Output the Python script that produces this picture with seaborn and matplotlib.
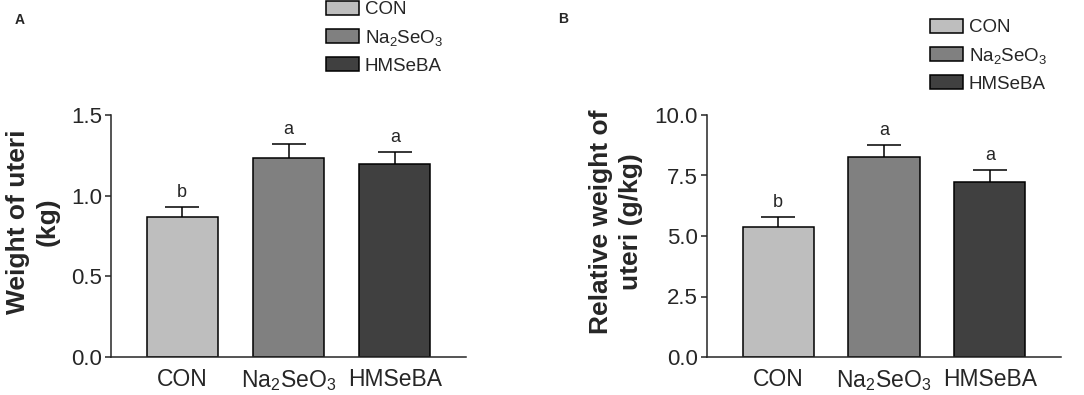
import numpy as np
import pandas as pd
import matplotlib
matplotlib.use('Agg')
import matplotlib.pyplot as plt
import seaborn as sns

# data
groups = ['CON', 'Na2SeO3', 'HMSeBA']
group_labels = ['CON', r'$\mathregular{Na_2SeO_3}$', 'HMSeBA']
weight_mean = [0.868, 1.234, 1.196]
weight_sem = [0.062, 0.086, 0.074]
weight_letters = ['b', 'a', 'a']
rel_mean = [5.37, 8.26, 7.23]
rel_sem = [0.42, 0.50, 0.50]
rel_letters = ['b', 'a', 'a']
bar_colors = ['#bebebe', '#808080', '#404040']

sns.set_theme(style='ticks')
plt.rcParams['font.family'] = ['Liberation Sans', 'DejaVu Sans']
plt.rcParams['mathtext.fontset'] = 'custom'
plt.rcParams['mathtext.rm'] = 'Liberation Sans'

W, H = 1084, 395
fig = plt.figure(figsize=(W / 100, H / 100), dpi=100)


def px_axes(left, right, top, bottom):
    return fig.add_axes([left / W, 1 - bottom / H, (right - left) / W, (bottom - top) / H])


def draw_panel(ax, means, sems, letters, ylim, yticks, ylabel, label_x, leg_xy):
    df = pd.DataFrame({'group': groups, 'value': means})
    sns.barplot(data=df, x='group', y='value', hue='group', palette=bar_colors,
                order=groups, hue_order=groups, dodge=False, width=0.67,
                edgecolor='black', linewidth=1.1, ax=ax, legend=True)
    # upper-only error bars (SEM)
    _, caps, _ = ax.errorbar(np.arange(len(groups)), means,
                             yerr=[np.zeros(len(sems)), sems],
                             fmt='none', ecolor='black', elinewidth=1.1,
                             capsize=12.5, capthick=1.1)
    caps[0].set_visible(False)
    for i, (m, s, t) in enumerate(zip(means, sems, letters)):
        ax.annotate(t, xy=(i, m + s), xytext=(0, 7), textcoords='offset points',
                    ha='center', va='baseline', fontsize=13)
    ax.set_xlim(-0.67, 2.67)
    ax.set_ylim(*ylim)
    ax.set_yticks(yticks)
    ax.set_yticklabels([f'{v:.1f}' for v in yticks])
    ax.set_xticks(range(len(groups)))
    ax.set_xticklabels(group_labels)
    ax.tick_params(axis='y', labelsize=16, length=4.5, width=1.1, direction='out', pad=2)
    ax.tick_params(axis='x', labelsize=16.5, length=0, pad=8)
    ax.set_xlabel('')
    ax.set_ylabel(ylabel, fontsize=19, fontweight='bold', linespacing=1.3)
    ax.yaxis.set_label_coords(label_x, 0.558)
    sns.despine(ax=ax)
    for sp in ['left', 'bottom']:
        ax.spines[sp].set_linewidth(1.1)
    handles, _ = ax.get_legend_handles_labels()
    ax.legend(handles, group_labels, loc='upper left',
              bbox_to_anchor=(leg_xy[0] / W, 1 - leg_xy[1] / H), bbox_transform=fig.transFigure,
              frameon=False, fontsize=13.5, handlelength=1.76, handleheight=0.75,
              handletextpad=0.32, labelspacing=0.5, borderpad=0, borderaxespad=0)


ax1 = px_axes(111, 466, 115, 357)
draw_panel(ax1, weight_mean, weight_sem, weight_letters, (0, 1.5), [0.0, 0.5, 1.0, 1.5],
           'Weight of uteri\n(kg)', -0.144, (326, 1))

ax2 = px_axes(707, 1061, 115, 357)
draw_panel(ax2, rel_mean, rel_sem, rel_letters, (0, 10), [0.0, 2.5, 5.0, 7.5, 10.0],
           'Relative weight of\nuteri (g/kg)', -0.181, (930, 19))

fig.text(20 / W, 1 - 20 / H, 'A', fontsize=10, fontweight='bold', ha='center', va='center')
fig.text(563 / W, 1 - 19 / H, 'B', fontsize=10, fontweight='bold', ha='center', va='center')

fig.savefig('out.png', dpi=100, facecolor='white')
